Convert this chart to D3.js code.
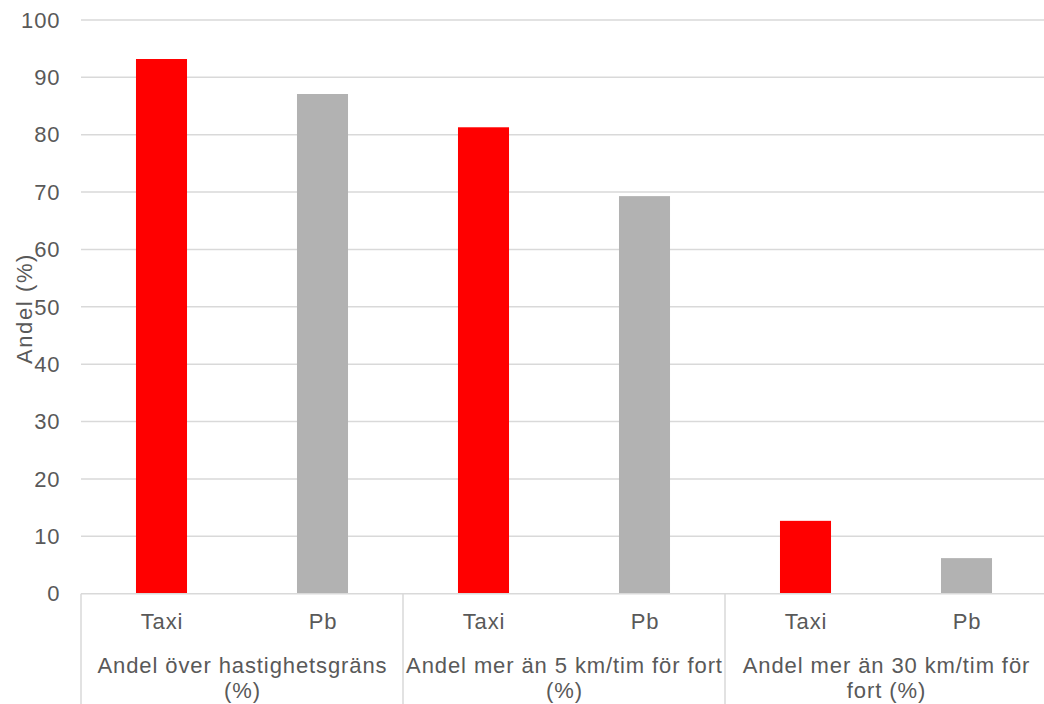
<!DOCTYPE html>
<html>
<head>
<meta charset="utf-8">
<script src="https://cdn.jsdelivr.net/npm/d3@7"></script>
<style>
  html, body { margin: 0; padding: 0; background: #fff; }
  svg { display: block; }
  text { font-family: "Liberation Sans", Arial, sans-serif; fill: #595959; letter-spacing: 0.9px; }
</style>
</head>
<body>
<svg id="chart" width="1044" height="704"></svg>
<script>
// Share of vehicles above the speed limit, taxi vs. passenger cars (Pb)
const groups = [
  ["Andel över hastighetsgräns", "(%)"],
  ["Andel mer än 5 km/tim för fort", "(%)"],
  ["Andel mer än 30 km/tim för", "fort (%)"]
];
const series = ["Taxi", "Pb"];
const taxiValues = [93.2, 81.3, 12.7];
const pbValues = [87.1, 69.3, 6.2];
const yTicks = [0, 10, 20, 30, 40, 50, 60, 70, 80, 90, 100];
const colors = { Taxi: "#ff0000", Pb: "#b2b2b2" };

const svg = d3.select("#chart");
const margin = { left: 81, right: -3, top: 20, bottom: 111 };
const W = 1044, H = 704;
const plotL = margin.left, plotR = W - margin.right;
const plotT = margin.top, plotB = H - margin.bottom;
const fontSize = 22;

const y = d3.scaleLinear().domain([0, 100]).range([plotB + 0.7, plotT]);
const x0 = d3.scaleBand().domain(d3.range(groups.length)).range([plotL, plotR]).padding(0);
const x1 = d3.scaleBand().domain(series).range([0, x0.bandwidth()])
  .paddingInner(0.683).paddingOuter(0.3415);

// horizontal gridlines
svg.append("g").selectAll("line").data(yTicks.filter(t => t > 0)).join("line")
  .attr("x1", plotL).attr("x2", W)
  .attr("y1", d => y(d)).attr("y2", d => y(d))
  .attr("stroke", "#d9d9d9").attr("stroke-width", 1.5);

// y-axis tick labels
svg.append("g").selectAll("text").data(yTicks).join("text")
  .attr("x", 60.5).attr("y", d => y(d)).attr("dy", "0.35em")
  .attr("text-anchor", "end").attr("font-size", fontSize)
  .text(d => d);

// bars
const rows = groups.map((g, i) => ({ i, Taxi: taxiValues[i], Pb: pbValues[i] }));
svg.append("g").selectAll("g").data(rows).join("g")
  .attr("transform", d => `translate(${x0(d.i)},0)`)
  .selectAll("rect").data(d => series.map(s => ({ s, v: d[s] }))).join("rect")
  .attr("x", d => x1(d.s)).attr("width", x1.bandwidth())
  .attr("y", d => y(d.v)).attr("height", d => y(0) - y(d.v))
  .attr("fill", d => colors[d.s]);

// category axis: baseline and group separators
const axisY = y(0);
svg.append("line").attr("x1", plotL).attr("x2", W)
  .attr("y1", axisY).attr("y2", axisY)
  .attr("stroke", "#d9d9d9").attr("stroke-width", 1.5);
svg.append("g").selectAll("line").data(d3.range(groups.length + 1)).join("line")
  .attr("x1", d => plotL + d * x0.step()).attr("x2", d => plotL + d * x0.step())
  .attr("y1", axisY).attr("y2", H)
  .attr("stroke", "#d9d9d9").attr("stroke-width", 1.5);

// series labels and group labels
const lab = svg.append("g");
rows.forEach(r => {
  series.forEach(s => {
    lab.append("text")
      .attr("x", x0(r.i) + x1(s) + x1.bandwidth() / 2 + 0.5)
      .attr("y", 629).attr("text-anchor", "middle").attr("font-size", fontSize)
      .text(s);
  });
  groups[r.i].forEach((line, k) => {
    lab.append("text")
      .attr("x", x0(r.i) + x0.bandwidth() / 2 + 0.5)
      .attr("y", 673 + k * 25).attr("text-anchor", "middle").attr("font-size", fontSize)
      .text(line);
  });
});

// y-axis title
svg.append("text")
  .attr("transform", `translate(32,${(plotT + plotB) / 2 + 2}) rotate(-90)`)
  .attr("text-anchor", "middle").attr("font-size", 22)
  .style("letter-spacing", "1.6px")
  .text("Andel (%)");
</script>
</body>
</html>
